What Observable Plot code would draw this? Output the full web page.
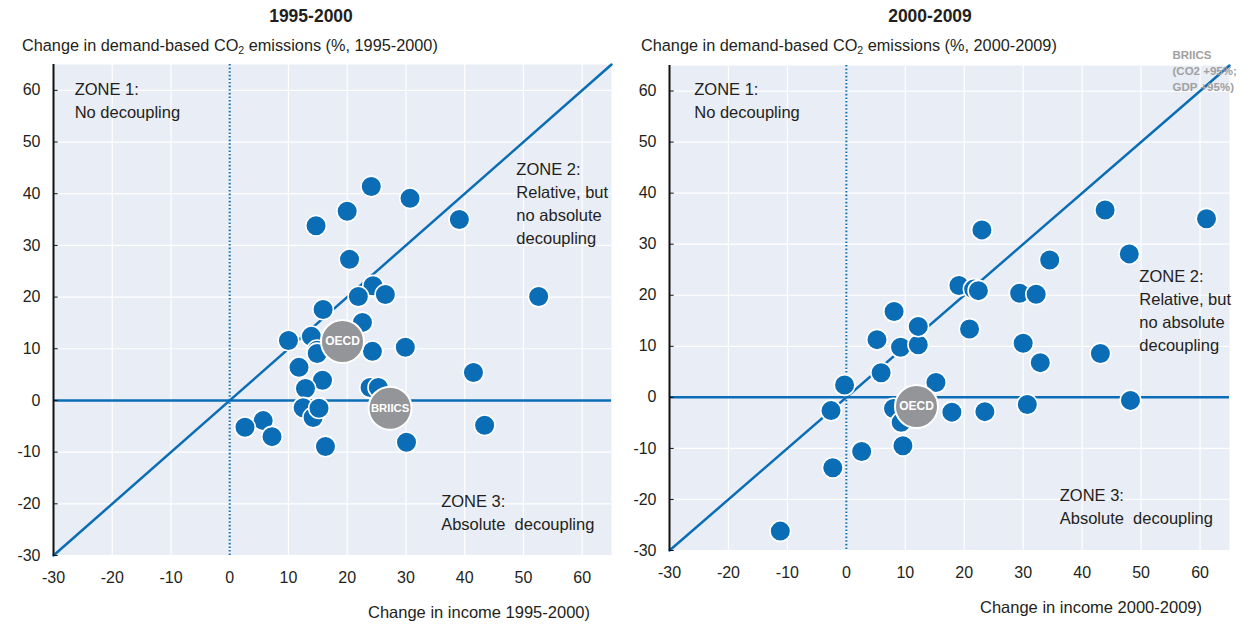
<!DOCTYPE html>
<html>
<head>
<meta charset="utf-8">
<script src="https://cdn.jsdelivr.net/npm/d3@7"></script>
<script src="https://cdn.jsdelivr.net/npm/@observablehq/plot@0.6"></script>
<style>
  body { margin: 0; background: white; }
  #wrap { position: relative; width: 1245px; height: 625px; overflow: hidden;
          font-family: "Liberation Sans", Arial, sans-serif; color: #231f20; }
  .ov { position: absolute; white-space: nowrap; line-height: 1; }
  .title { font-weight: bold; font-size: 17.5px; transform: translate(-50%, -50%); }
  .sub { font-size: 16.3px; transform: translateY(-50%); }
  .xlab { font-size: 16.5px; transform: translate(-100%, -50%); }
  .panel { position: absolute; top: 0; }
  sub { font-size: 10.5px; vertical-align: -3px; line-height: 0; }
</style>
</head>
<body>
<div id="wrap"></div>
<script>
// ---------- data ----------
const periods = ["1995-2000", "2000-2009"];
const ticks = [-30, -20, -10, 0, 10, 20, 30, 40, 50, 60];

// Panel 1995-2000: change in income (%) and change in demand-based CO2 emissions (%)
const income9500 = [24.1, 30.7, 20.0, 14.7, 39.1, 20.4, 24.4, 21.9, 26.5, 15.9, 22.6, 10.0, 13.9, 14.9, 14.9, 24.3, 29.9, 11.8, 15.8, 12.9, 23.9, 25.3, 12.5, 14.2, 15.2, 5.7, 2.6, 7.2, 16.3, 30.1, 41.5, 43.4, 52.6];
const co2_9500    = [41.4, 39.1, 36.6, 33.8, 35.0, 27.3, 22.2, 20.1, 20.5, 17.6, 15.1, 11.6, 12.4, 9.7, 9.1, 9.5, 10.3, 6.4, 3.9, 2.3, 2.5, 2.5, -1.4, -3.3, -1.5, -3.9, -5.2, -7.0, -8.9, -8.1, 5.4, -4.8, 20.1];
const aggNames9500  = ["OECD", "BRIICS"];
const aggIncome9500 = [19.2, 27.3];
const aggCo2_9500   = [11.4, -1.5];

// Panel 2000-2009
const income0009 = [-11.2, -2.3, -2.6, -0.3, 2.6, 5.9, 5.2, 8.1, 9.2, 12.2, 12.2, 15.2, 17.9, 8.0, 9.3, 9.6, 19.1, 21.6, 22.4, 20.9, 23.0, 34.5, 29.4, 32.2, 30.0, 32.9, 30.7, 23.5, 43.9, 48.0, 61.1, 43.1, 48.2];
const co2_0009    = [-26.2, -13.8, -2.6, 2.4, -10.6, 4.8, 11.3, 16.8, 9.8, 10.3, 13.9, 2.9, -2.9, -2.2, -4.9, -9.5, 21.9, 21.2, 20.9, 13.4, 32.8, 26.9, 20.4, 20.2, 10.6, 6.8, -1.4, -2.8, 36.7, 28.1, 35.0, 8.6, -0.6];
const aggNames0009  = ["OECD"];
const aggIncome0009 = [11.9];
const aggCo2_0009   = [-1.8];
const offChartNote0009 = "BRIICS\n(CO2 +95%;\nGDP +95%)";

const zoneTexts = ["ZONE 1:\nNo decoupling", "ZONE 2:\nRelative, but\nno absolute\ndecoupling", "ZONE 3:\nAbsolute  decoupling"];

// ---------- style ----------
const FONT = '"Liberation Sans", Arial, sans-serif';
const BLUE = "#0a6db5";
const GREY = "#939598";
const BG = "#e9edf6";

function panel(cfg) {
  const pts = cfg.xs.map((x, i) => ({x, y: cfg.ys[i]}));
  const aggs = cfg.aggNames.map((n, i) => ({name: n, x: cfg.aggX[i], y: cfg.aggY[i]}));
  const dom = [-30, 65];
  const zones = zoneTexts.map((t, i) => ({t, x: cfg.zonePos[i][0], y: cfg.zonePos[i][1]}));
  const marks = [
    Plot.frame({fill: BG, stroke: null}),
    Plot.gridX(ticks, {stroke: "white", strokeOpacity: 1, strokeWidth: 1.2}),
    Plot.gridY(ticks, {stroke: "white", strokeOpacity: 1, strokeWidth: 1.2}),
    Plot.ruleX([0], {stroke: BLUE, strokeWidth: 2, strokeDasharray: "1.6,2"}),
    Plot.ruleY([0], {stroke: BLUE, strokeWidth: 2.5}),
    Plot.line(dom, {x: d => d, y: d => d, stroke: BLUE, strokeWidth: 2.5}),
    Plot.ruleX([dom[0]], {stroke: "#111", strokeWidth: 2}),
    Plot.ruleY(ticks, {x1: dom[0], x2: dom[0] + 0.8, stroke: "#111", strokeWidth: 1}),
    Plot.text(zones, {x: "x", y: "y", text: "t", textAnchor: "start", lineAnchor: "top", lineHeight: 1.4, fontSize: 16.5, fill: "#231f20"}),
    Plot.dot(pts, {x: "x", y: "y", r: 10.3, fill: BLUE, stroke: "white", strokeWidth: 1.6}),
    Plot.dot(aggs, {x: "x", y: "y", r: 21.5, fill: GREY, stroke: "white", strokeWidth: 2}),
    Plot.text(aggs, {x: "x", y: "y", text: "name", fill: "white", fontWeight: "bold", fontSize: d => d.name.length > 4 ? 11.3 : 12})
  ];
  if (cfg.note) {
    marks.push(Plot.text([cfg.note], {frameAnchor: "top-right", dx: -57, dy: -18, textAnchor: "start", lineAnchor: "top", lineHeight: 1.4, fill: "#a0a0a0", fontWeight: "bold", fontSize: 11.5}));
  }
  return Plot.plot({
    width: cfg.width, height: 625,
    marginTop: cfg.mt, marginBottom: cfg.mb, marginLeft: cfg.ml, marginRight: cfg.mr,
    style: {fontFamily: FONT, fontSize: "16px", color: "#231f20", background: "transparent", overflow: "visible"},
    x: {domain: dom, ticks, tickSize: 0, tickPadding: 16, label: null, tickFormat: d => String(d)},
    y: {domain: dom, ticks, tickSize: 0, tickPadding: 13, label: null, tickFormat: d => String(d)},
    marks
  });
}

const wrap = document.getElementById("wrap");

const p1 = document.createElement("div");
p1.className = "panel"; p1.style.left = "0px";
p1.appendChild(panel({
  xs: income9500, ys: co2_9500, aggNames: aggNames9500, aggX: aggIncome9500, aggY: aggCo2_9500,
  width: 622, mt: 64, mb: 70, ml: 53, mr: 11,
  zonePos: [[-26.4, 62.2], [48.8, 46.8], [36.0, -17.4]]
}));
wrap.appendChild(p1);

const p2 = document.createElement("div");
p2.className = "panel"; p2.style.left = "622px";
p2.appendChild(panel({
  xs: income0009, ys: co2_0009, aggNames: aggNames0009, aggX: aggIncome0009, aggY: aggCo2_0009,
  width: 623, mt: 65, mb: 75, ml: 47, mr: 16,
  zonePos: [[-25.8, 62.4], [49.7, 25.8], [36.2, -17.1]],
  note: offChartNote0009
}));
wrap.appendChild(p2);

function ov(cls, html, x, y) {
  const d = document.createElement("div");
  d.className = "ov " + cls; d.innerHTML = html;
  d.style.left = x + "px"; d.style.top = y + "px";
  wrap.appendChild(d);
}
ov("title", periods[0], 311, 17);
ov("sub", `Change in demand-based CO<sub>2</sub> emissions (%, ${periods[0]})`, 22, 45);
ov("xlab", `Change in income ${periods[0]})`, 590, 612);
ov("title", periods[1], 930, 17);
ov("sub", `Change in demand-based CO<sub>2</sub> emissions (%, ${periods[1]})`, 641, 45);
ov("xlab", `Change in income ${periods[1]})`, 1202, 607);
</script>
</body>
</html>
